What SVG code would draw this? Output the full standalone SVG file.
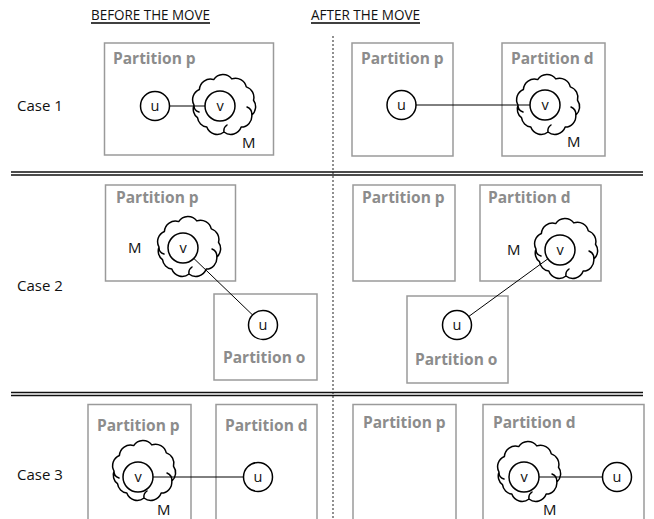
<svg xmlns="http://www.w3.org/2000/svg" xmlns:xlink="http://www.w3.org/1999/xlink" width="654" height="519" viewBox="0 0 654 519">
<style>
.bg{fill:#ffffff}
.box{fill:none;stroke:#9a9a9a;stroke-width:1.5}
.plabel{font-family:"Open Sans","Liberation Sans",sans-serif;font-size:15.5px;font-weight:bold;fill:#8c8c8c}
.lbl{font-family:"Open Sans","Liberation Sans",sans-serif;font-size:15px;fill:#111}
.hdr{font-family:"Open Sans","Liberation Sans",sans-serif;font-size:15px;fill:#111}
.ul{stroke:#000;stroke-width:1.6}
.node{fill:#fff;stroke:#000;stroke-width:1.5}
.nt{font-family:"Open Sans","Liberation Sans",sans-serif;font-size:14.5px;fill:#111;text-anchor:middle}
.cloud{fill:none;stroke:#000;stroke-width:1.5;stroke-linejoin:round;stroke-linecap:round}
.edge{stroke:#000;stroke-width:1;fill:none}
.sep{stroke:#111;stroke-width:1.3}
.vdiv{stroke:#555;stroke-width:1.3;stroke-dasharray:2 2}
</style>
<defs>
<path id="cloud" class="cloud" d="M -30,0 A11 11 0 0 1 -24.6,-15.5 A11 11 0 0 1 -10.3,-25.4 A11 11 0 0 1 7.8,-26.1 A11 11 0 0 1 22.3,-18.1 A11 11 0 0 1 29.5,-4.7 A11 11 0 0 1 27.8,10.1 A11 11 0 0 1 17.2,22.1 A11 11 0 0 1 0,27 A11 11 0 0 1 -17.2,22.1 A11 11 0 0 1 -26.5,12.7 A11 11 0 0 1 -30,0 Z M -30,0 A7 7 0 0 0 -25,7 M 27.8,10.1 A8 8 0 0 0 23,2 M 0,27 A7 7 0 0 1 3,20"/>
</defs>
<rect class="bg" x="0" y="0" width="654" height="519"/>

<g id="headers">
<text class="hdr" x="91" y="20" textLength="119" lengthAdjust="spacingAndGlyphs">BEFORE THE MOVE</text>
<line class="ul" x1="91" y1="23" x2="210" y2="23"/>
<text class="hdr" x="311" y="20" textLength="109" lengthAdjust="spacingAndGlyphs">AFTER THE MOVE</text>
<line class="ul" x1="311" y1="23" x2="420" y2="23"/>
</g>

<g id="dividers">
<line class="vdiv" x1="333" y1="36" x2="333" y2="519"/>
<line class="sep" x1="11" y1="172" x2="643" y2="172"/>
<line class="sep" x1="11" y1="175" x2="643" y2="175"/>
<line class="sep" x1="11" y1="392.5" x2="643" y2="392.5"/>
<line class="sep" x1="11" y1="395.5" x2="643" y2="395.5"/>
</g>

<g id="case-labels">
<text class="lbl" x="17" y="111">Case 1</text>
<text class="lbl" x="17" y="291">Case 2</text>
<text class="lbl" x="17" y="480">Case 3</text>
</g>

<g id="partitions">
<g id="c1-before-p"><rect class="box" x="104.5" y="43" width="169" height="112"/><text class="plabel" x="113" y="64">Partition p</text></g>
<g id="c1-after-p"><rect class="box" x="352" y="43" width="101" height="113"/><text class="plabel" x="361" y="64">Partition p</text></g>
<g id="c1-after-d"><rect class="box" x="502" y="43" width="103" height="113"/><text class="plabel" x="511" y="64">Partition d</text></g>
<g id="c2-before-p"><rect class="box" x="105.5" y="185" width="130" height="96"/><text class="plabel" x="116" y="203">Partition p</text></g>
<g id="c2-before-o"><rect class="box" x="214" y="294" width="103" height="86"/><text class="plabel" x="223" y="363">Partition o</text></g>
<g id="c2-after-p"><rect class="box" x="353" y="185" width="102" height="96"/><text class="plabel" x="362" y="203">Partition p</text></g>
<g id="c2-after-d"><rect class="box" x="480" y="185" width="121" height="96"/><text class="plabel" x="488" y="203">Partition d</text></g>
<g id="c2-after-o"><rect class="box" x="407" y="296" width="101" height="87"/><text class="plabel" x="415" y="365">Partition o</text></g>
<g id="c3-before-p"><rect class="box" x="88" y="404.5" width="103" height="120"/><text class="plabel" x="97" y="431">Partition p</text></g>
<g id="c3-before-d"><rect class="box" x="216" y="404.5" width="101" height="120"/><text class="plabel" x="225" y="431">Partition d</text></g>
<g id="c3-after-p"><rect class="box" x="353" y="404.5" width="103" height="120"/><text class="plabel" x="363" y="428">Partition p</text></g>
<g id="c3-after-d"><rect class="box" x="483" y="404.5" width="161" height="120"/><text class="plabel" x="493" y="428">Partition d</text></g>
</g>

<g id="modules">
<g id="c1-before-M"><use xlink:href="#cloud" href="#cloud" transform="translate(224,105)"/><text class="lbl" x="242" y="148">M</text></g>
<g id="c1-after-M"><use xlink:href="#cloud" href="#cloud" transform="translate(548,105)"/><text class="lbl" x="567" y="147">M</text></g>
<g id="c2-before-M"><use xlink:href="#cloud" href="#cloud" transform="translate(189,247)"/><text class="lbl" x="128" y="253">M</text></g>
<g id="c2-after-M"><use xlink:href="#cloud" href="#cloud" transform="translate(566,249)"/><text class="lbl" x="507" y="255">M</text></g>
<g id="c3-before-M"><use xlink:href="#cloud" href="#cloud" transform="translate(144,471)"/><text class="lbl" x="157" y="515">M</text></g>
<g id="c3-after-M"><use xlink:href="#cloud" href="#cloud" transform="translate(529,472)"/><text class="lbl" x="543" y="515">M</text></g>
</g>

<g id="connectors">
<line class="edge" x1="155" y1="106" x2="220" y2="106"/>
<line class="edge" x1="401.5" y1="105" x2="545" y2="105"/>
<line class="edge" x1="183" y1="248" x2="263" y2="325"/>
<line class="edge" x1="560" y1="250" x2="457" y2="325"/>
<line class="edge" x1="138" y1="477" x2="258" y2="477"/>
<line class="edge" x1="524" y1="477" x2="617" y2="477"/>
</g>

<g id="c1-before-u"><circle class="node" cx="155" cy="106" r="14.5"/><text class="nt" x="155" y="110.5">u</text></g>
<g id="c1-before-v"><circle class="node" cx="220" cy="106" r="15"/><text class="nt" x="220" y="110.5">v</text></g>
<g id="c1-after-u"><circle class="node" cx="401.5" cy="105" r="14.5"/><text class="nt" x="401.5" y="109.5">u</text></g>
<g id="c1-after-v"><circle class="node" cx="545" cy="105" r="15"/><text class="nt" x="545" y="109.5">v</text></g>
<g id="c2-before-v"><circle class="node" cx="183" cy="248" r="15"/><text class="nt" x="183" y="252.5">v</text></g>
<g id="c2-before-u"><circle class="node" cx="263" cy="325" r="14.5"/><text class="nt" x="263" y="329.5">u</text></g>
<g id="c2-after-v"><circle class="node" cx="560" cy="250" r="15"/><text class="nt" x="560" y="254.5">v</text></g>
<g id="c2-after-u"><circle class="node" cx="457" cy="325" r="14.5"/><text class="nt" x="457" y="329.5">u</text></g>
<g id="c3-before-v"><circle class="node" cx="138" cy="477" r="15"/><text class="nt" x="138" y="481.5">v</text></g>
<g id="c3-before-u"><circle class="node" cx="258" cy="477" r="14.5"/><text class="nt" x="258" y="481.5">u</text></g>
<g id="c3-after-v"><circle class="node" cx="524" cy="477" r="15"/><text class="nt" x="524" y="481.5">v</text></g>
<g id="c3-after-u"><circle class="node" cx="617" cy="477" r="14.5"/><text class="nt" x="617" y="481.5">u</text></g>
</svg>
